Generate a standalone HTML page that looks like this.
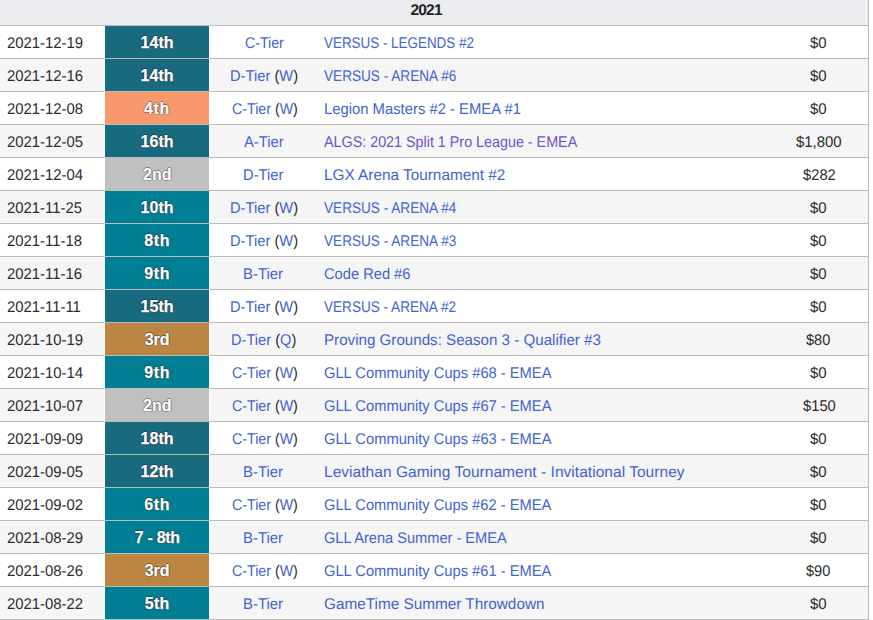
<!DOCTYPE html>
<html><head><meta charset="utf-8"><style>
html,body{margin:0;padding:0;background:#fff;width:873px;height:620px;overflow:hidden;}
body{font-family:"Liberation Sans",sans-serif;font-size:15.5px;color:#2c2c2c;position:relative;}
.hd{position:absolute;left:0;top:0;width:868px;height:25px;background:#eaecf0;border-bottom:1px solid #bbb;}
.hd span{position:absolute;top:-5px;text-rendering:geometricPrecision;line-height:32px;font-weight:bold;font-size:15.5px;color:#222;white-space:nowrap;}
.vb{position:absolute;left:868px;top:0;width:1px;height:620px;background:#bbb;}
.r{position:absolute;left:0;width:868px;height:32px;border-bottom:1px solid #bbb;background:#fff;}
.r.g{background:#f5f5f5;}
.tx{position:absolute;top:2px;text-rendering:geometricPrecision;height:32px;line-height:32px;white-space:nowrap;transform-origin:0 0;}
.pb{position:absolute;left:105px;top:0;width:104px;height:32px;}
.r.g .pb{box-shadow:-1px 0 0 #fff,1px 0 0 #fff;}
.pb.d{background:#186b7f;}
.pb.t{background:#007e94;}
.pb.o{background:#f7996a;}
.pb.s{background:#c0c0c0;}
.pb.b{background:#bb8644;}
.plt{font-weight:bold;font-size:16.0px;color:#fff;-webkit-text-stroke:0.25px #fff;text-shadow:1px 0 0 rgba(40,20,30,.45),-1px 0 0 rgba(40,20,30,.45),0 1px 0 rgba(40,20,30,.45),0 -1px 0 rgba(40,20,30,.45);}
a{color:#4264d0;text-decoration:none;}
.lk{color:#4264d0;}
.lk.vis{color:#7054c8;}
.tx.plt{top:1px;text-rendering:auto;}
</style></head><body>
<div class="hd"><span style="left:410.4px;letter-spacing:-0.767px">2021</span></div>
<div class="r" style="top:26px"><i class="pb d"></i><span class="tx" style="left:7.2px;transform:scaleX(0.9595)">2021-12-19</span><span class="tx plt" style="left:140.4px;letter-spacing:0.1px">14th</span><span class="tx" style="left:244.5px;transform:scaleX(0.914)"><a>C-Tier</a></span><span class="tx lk" style="left:324.0px;transform:scaleX(0.8659)">VERSUS - LEGENDS #2</span><span class="tx" style="left:810.4px;transform:scaleX(0.9647)">$0</span></div>
<div class="r g" style="top:59px"><i class="pb d"></i><span class="tx" style="left:7.2px;transform:scaleX(0.9595)">2021-12-16</span><span class="tx plt" style="left:140.4px;letter-spacing:0.1px">14th</span><span class="tx" style="left:230.1px;transform:scaleX(0.9486)"><a>D-Tier</a> (<a>W</a>)</span><span class="tx lk" style="left:324.0px;transform:scaleX(0.8775)">VERSUS - ARENA #6</span><span class="tx" style="left:810.4px;transform:scaleX(0.9647)">$0</span></div>
<div class="r" style="top:92px"><i class="pb o"></i><span class="tx" style="left:7.2px;transform:scaleX(0.9595)">2021-12-08</span><span class="tx plt" style="left:144.0px;letter-spacing:0.65px">4th</span><span class="tx" style="left:231.55px;transform:scaleX(0.9176)"><a>C-Tier</a> (<a>W</a>)</span><span class="tx lk" style="left:324.0px;transform:scaleX(0.9561)">Legion Masters #2 - EMEA #1</span><span class="tx" style="left:810.4px;transform:scaleX(0.9647)">$0</span></div>
<div class="r g" style="top:125px"><i class="pb d"></i><span class="tx" style="left:7.2px;transform:scaleX(0.9595)">2021-12-05</span><span class="tx plt" style="left:140.4px;letter-spacing:0.1px">16th</span><span class="tx" style="left:244.0px;transform:scaleX(0.95)"><a>A-Tier</a></span><span class="tx lk vis" style="left:324.0px;transform:scaleX(0.9241)">ALGS: 2021 Split 1 Pro League - EMEA</span><span class="tx" style="left:796.0px;transform:scaleX(0.9617)">$1,800</span></div>
<div class="r" style="top:158px"><i class="pb s"></i><span class="tx" style="left:7.2px;transform:scaleX(0.9595)">2021-12-04</span><span class="tx plt" style="left:143.0px">2nd</span><span class="tx" style="left:243.0px;transform:scaleX(0.95)"><a>D-Tier</a></span><span class="tx lk" style="left:324.0px;transform:scaleX(0.9896)">LGX Arena Tournament #2</span><span class="tx" style="left:802.7px;transform:scaleX(0.95)">$282</span></div>
<div class="r g" style="top:191px"><i class="pb t"></i><span class="tx" style="left:7.2px;transform:scaleX(0.9595)">2021-11-25</span><span class="tx plt" style="left:140.4px;letter-spacing:0.1px">10th</span><span class="tx" style="left:230.1px;transform:scaleX(0.9486)"><a>D-Tier</a> (<a>W</a>)</span><span class="tx lk" style="left:324.0px;transform:scaleX(0.8775)">VERSUS - ARENA #4</span><span class="tx" style="left:810.4px;transform:scaleX(0.9647)">$0</span></div>
<div class="r" style="top:224px"><i class="pb t"></i><span class="tx" style="left:7.2px;transform:scaleX(0.9595)">2021-11-18</span><span class="tx plt" style="left:144.2px;letter-spacing:0.65px">8th</span><span class="tx" style="left:230.1px;transform:scaleX(0.9486)"><a>D-Tier</a> (<a>W</a>)</span><span class="tx lk" style="left:324.0px;transform:scaleX(0.8775)">VERSUS - ARENA #3</span><span class="tx" style="left:810.4px;transform:scaleX(0.9647)">$0</span></div>
<div class="r g" style="top:257px"><i class="pb t"></i><span class="tx" style="left:7.2px;transform:scaleX(0.9595)">2021-11-16</span><span class="tx plt" style="left:144.2px;letter-spacing:0.65px">9th</span><span class="tx" style="left:243.4px;transform:scaleX(0.961)"><a>B-Tier</a></span><span class="tx lk" style="left:324.0px;transform:scaleX(0.9462)">Code Red #6</span><span class="tx" style="left:810.4px;transform:scaleX(0.9647)">$0</span></div>
<div class="r" style="top:290px"><i class="pb d"></i><span class="tx" style="left:7.2px;transform:scaleX(0.9595)">2021-11-11</span><span class="tx plt" style="left:140.4px;letter-spacing:0.1px">15th</span><span class="tx" style="left:230.1px;transform:scaleX(0.9486)"><a>D-Tier</a> (<a>W</a>)</span><span class="tx lk" style="left:324.0px;transform:scaleX(0.8755)">VERSUS - ARENA #2</span><span class="tx" style="left:810.4px;transform:scaleX(0.9647)">$0</span></div>
<div class="r g" style="top:323px"><i class="pb b"></i><span class="tx" style="left:7.2px;transform:scaleX(0.9595)">2021-10-19</span><span class="tx plt" style="left:144.7px;letter-spacing:-0.05px">3rd</span><span class="tx" style="left:231.0px;transform:scaleX(0.9441)"><a>D-Tier</a> (<a>Q</a>)</span><span class="tx lk" style="left:324.0px;transform:scaleX(0.977)">Proving Grounds: Season 3 - Qualifier #3</span><span class="tx" style="left:806.4px;transform:scaleX(0.9385)">$80</span></div>
<div class="r" style="top:356px"><i class="pb t"></i><span class="tx" style="left:7.2px;transform:scaleX(0.9595)">2021-10-14</span><span class="tx plt" style="left:144.2px;letter-spacing:0.65px">9th</span><span class="tx" style="left:231.55px;transform:scaleX(0.9176)"><a>C-Tier</a> (<a>W</a>)</span><span class="tx lk" style="left:324.0px;transform:scaleX(0.9488)">GLL Community Cups #68 - EMEA</span><span class="tx" style="left:810.4px;transform:scaleX(0.9647)">$0</span></div>
<div class="r g" style="top:389px"><i class="pb s"></i><span class="tx" style="left:7.2px;transform:scaleX(0.9595)">2021-10-07</span><span class="tx plt" style="left:143.0px">2nd</span><span class="tx" style="left:231.55px;transform:scaleX(0.9176)"><a>C-Tier</a> (<a>W</a>)</span><span class="tx lk" style="left:324.0px;transform:scaleX(0.9488)">GLL Community Cups #67 - EMEA</span><span class="tx" style="left:802.7px;transform:scaleX(0.95)">$150</span></div>
<div class="r" style="top:422px"><i class="pb d"></i><span class="tx" style="left:7.2px;transform:scaleX(0.9595)">2021-09-09</span><span class="tx plt" style="left:140.4px;letter-spacing:0.1px">18th</span><span class="tx" style="left:231.55px;transform:scaleX(0.9176)"><a>C-Tier</a> (<a>W</a>)</span><span class="tx lk" style="left:324.0px;transform:scaleX(0.9488)">GLL Community Cups #63 - EMEA</span><span class="tx" style="left:810.4px;transform:scaleX(0.9647)">$0</span></div>
<div class="r g" style="top:455px"><i class="pb d"></i><span class="tx" style="left:7.2px;transform:scaleX(0.9595)">2021-09-05</span><span class="tx plt" style="left:140.4px;letter-spacing:0.1px">12th</span><span class="tx" style="left:243.4px;transform:scaleX(0.961)"><a>B-Tier</a></span><span class="tx lk" style="left:324.0px;letter-spacing:0.037px">Leviathan Gaming Tournament - Invitational Tourney</span><span class="tx" style="left:810.4px;transform:scaleX(0.9647)">$0</span></div>
<div class="r" style="top:488px"><i class="pb t"></i><span class="tx" style="left:7.2px;transform:scaleX(0.9595)">2021-09-02</span><span class="tx plt" style="left:144.2px;letter-spacing:0.65px">6th</span><span class="tx" style="left:231.55px;transform:scaleX(0.9176)"><a>C-Tier</a> (<a>W</a>)</span><span class="tx lk" style="left:324.0px;transform:scaleX(0.9479)">GLL Community Cups #62 - EMEA</span><span class="tx" style="left:810.4px;transform:scaleX(0.9647)">$0</span></div>
<div class="r g" style="top:521px"><i class="pb t"></i><span class="tx" style="left:7.2px;transform:scaleX(0.9595)">2021-08-29</span><span class="tx plt" style="left:134.7px;letter-spacing:-0.283px">7 - 8th</span><span class="tx" style="left:243.4px;transform:scaleX(0.961)"><a>B-Tier</a></span><span class="tx lk" style="left:324.0px;transform:scaleX(0.9412)">GLL Arena Summer - EMEA</span><span class="tx" style="left:810.4px;transform:scaleX(0.9647)">$0</span></div>
<div class="r" style="top:554px"><i class="pb b"></i><span class="tx" style="left:7.2px;transform:scaleX(0.9595)">2021-08-26</span><span class="tx plt" style="left:144.7px;letter-spacing:-0.05px">3rd</span><span class="tx" style="left:231.55px;transform:scaleX(0.9176)"><a>C-Tier</a> (<a>W</a>)</span><span class="tx lk" style="left:324.0px;transform:scaleX(0.9479)">GLL Community Cups #61 - EMEA</span><span class="tx" style="left:806.4px;transform:scaleX(0.9385)">$90</span></div>
<div class="r g" style="top:587px"><i class="pb t"></i><span class="tx" style="left:7.2px;transform:scaleX(0.9595)">2021-08-22</span><span class="tx plt" style="left:144.7px;letter-spacing:0.3px">5th</span><span class="tx" style="left:243.4px;transform:scaleX(0.961)"><a>B-Tier</a></span><span class="tx lk" style="left:324.0px;transform:scaleX(0.9883)">GameTime Summer Throwdown</span><span class="tx" style="left:810.4px;transform:scaleX(0.9647)">$0</span></div>
<div class="vb"></div>
</body></html>
